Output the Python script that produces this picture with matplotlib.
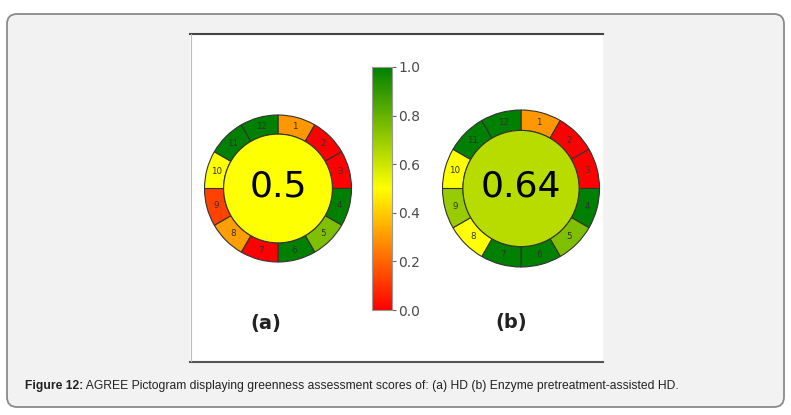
import matplotlib
matplotlib.use("Agg")
import matplotlib.pyplot as plt
import numpy as np
from matplotlib.colors import LinearSegmentedColormap, Normalize
from matplotlib.cm import ScalarMappable
from matplotlib.patches import FancyBboxPatch, Rectangle, Circle

# AGREE scores per principle (1..12)
segments = [str(i) for i in range(1, 13)]
scores_a = [0.3, 0.0, 0.0, 1.0, 0.75, 1.0, 0.0, 0.31, 0.13, 0.5, 1.0, 1.0]
scores_b = [0.3, 0.0, 0.0, 1.0, 0.75, 1.0, 1.0, 0.5, 0.7, 0.5, 1.0, 1.0]
total_a = 0.5
total_b = 0.64
panel_labels = ["(a)", "(b)"]
cbar_ticks = [0.0, 0.2, 0.4, 0.6, 0.8, 1.0]
caption_bold = "Figure 12:"
caption_rest = " AGREE Pictogram displaying greenness assessment scores of: (a) HD (b) Enzyme pretreatment-assisted HD."

W, H = 791, 415
fig = plt.figure(figsize=(W / 100, H / 100), dpi=100)
fig.patch.set_facecolor("white")


def px(x0, y0, x1, y1):
    # pixel box (top-left origin) -> figure fraction
    return [x0 / W, 1 - y1 / H, (x1 - x0) / W, (y1 - y0) / H]


# background frame, white picture area
bg = fig.add_axes([0, 0, 1, 1])
bg.set_xlim(0, W)
bg.set_ylim(H, 0)
bg.axis("off")
bg.add_patch(FancyBboxPatch((7, 14), 777, 393, boxstyle="round,pad=0,rounding_size=10",
                            fc="#f2f2f2", ec="#8a8a8a", lw=1.3))
bg.add_patch(Rectangle((190, 33), 413, 329, fc="white", ec="none"))
bg.plot([190, 603], [34.5, 34.5], color="#444444", lw=1.5)
bg.plot([190, 603], [361.5, 361.5], color="#555555", lw=1.5)
bg.plot([190.5, 190.5], [34, 361], color="#bbbbbb", lw=0.8)

cmap = LinearSegmentedColormap.from_list("agree", ["red", "yellow", "green"])


def pictogram(cx, cy, r, scores, total):
    m = 1.03
    ax = fig.add_axes(px(cx - r * m, cy - r * m, cx + r * m, cy + r * m))
    wedges, texts = ax.pie(np.ones(len(scores)), colors=cmap(scores), startangle=90,
                           counterclock=False, radius=1, labels=segments, labeldistance=0.87,
                           wedgeprops=dict(width=0.26, edgecolor="#333333", linewidth=0.8),
                           textprops=dict(fontsize=6.3, color="#333333"))
    for t in texts:
        t.set_ha("center")
        t.set_va("center")
    ax.add_patch(Circle((0, 0), 0.74, fc=cmap(total), ec="#333333", lw=0.8))
    ax.text(0, 0.03, str(total), ha="center", va="center", fontsize=26, color="black")
    ax.set_xlim(-m, m)
    ax.set_ylim(-m, m)
    ax.set_aspect("equal")
    ax.axis("off")


pictogram(278, 188.5, 73.5, scores_a, total_a)
pictogram(521, 188.5, 78.5, scores_b, total_b)

bg.text(266, 323, panel_labels[0], ha="center", va="center", fontsize=14,
        fontweight="bold", color="#222222")
bg.text(511, 322, panel_labels[1], ha="center", va="center", fontsize=14,
        fontweight="bold", color="#222222")

# colour bar
cax = fig.add_axes(px(372, 67, 392, 310))
cb = fig.colorbar(ScalarMappable(norm=Normalize(0, 1), cmap=cmap), cax=cax, ticks=cbar_ticks)
cb.ax.set_yticklabels(["%.1f" % t for t in cbar_ticks])
cb.ax.tick_params(labelsize=10, colors="#666666", labelcolor="#4a4a4a", length=3,
                  width=0.8, pad=1.5)
cb.outline.set_edgecolor("#999999")
cb.outline.set_linewidth(0.8)

# caption
t1 = bg.text(25, 386, caption_bold, ha="left", va="center", fontsize=8.7,
             fontweight="bold", family="Liberation Sans", color="#222222")
fig.canvas.draw()
bb = t1.get_window_extent(fig.canvas.get_renderer())
bg.text(bb.x1, 386, caption_rest, ha="left", va="center", fontsize=8.7,
        family="Liberation Sans", color="#222222")

fig.savefig("out.png", dpi=100)
